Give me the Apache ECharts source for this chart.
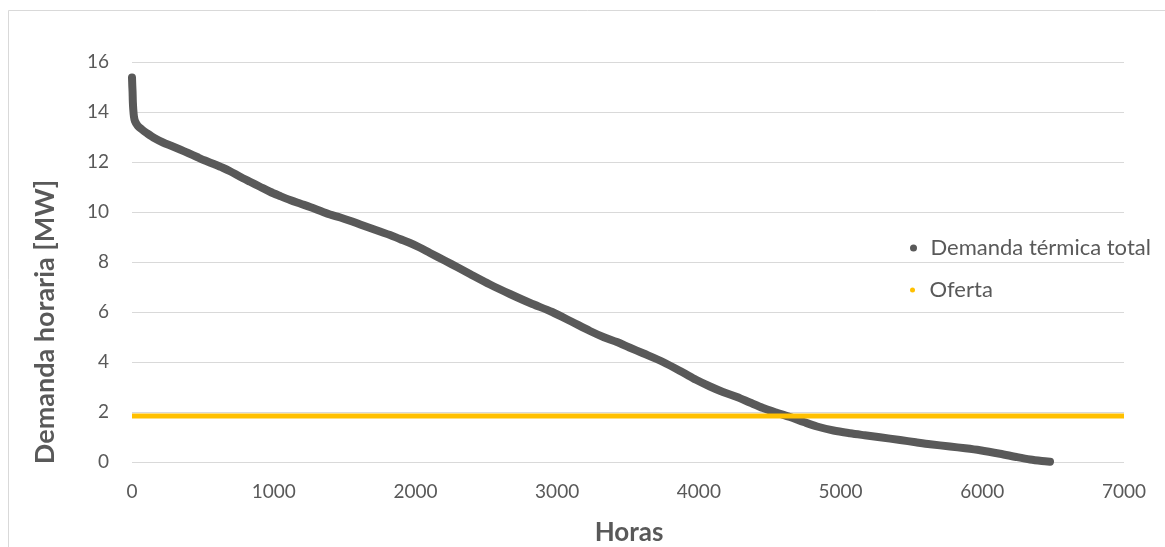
<!DOCTYPE html>
<html>
<head>
<meta charset="utf-8">
<script src="https://cdn.jsdelivr.net/npm/echarts@6/dist/echarts.min.js"></script>
<style>
html,body{margin:0;padding:0;background:#fff;}
#chart{width:1165px;height:547px;}
</style>
</head>
<body>
<div id="chart"></div>
<script>
// Demanda térmica total: [hora, MW] (sorted load duration curve)
const demandaHoras = [0,2,4,6,9,13,20,40,70,106,160,219,280,339,400,459,515,572,640,692,760,833,900,974,1045,1115,1190,1256,1348,1397,1470,1538,1610,1680,1750,1821,1890,1962,2030,2103,2209,2300,2385,2526,2667,2809,2965,3100,3232,3330,3422,3510,3606,3747,3888,3980,4079,4170,4269,4360,4453,4550,4643,4740,4834,4950,5067,5170,5278,5420,5530,5632,5772,5880,5984,6125,6240,6337,6420,6478];
const demandaMW = [15.38,15.05,14.8,14.4,14.1,13.85,13.65,13.45,13.3,13.15,12.95,12.78,12.64,12.5,12.35,12.2,12.06,11.93,11.77,11.63,11.42,11.21,11.02,10.81,10.64,10.48,10.33,10.2,10.0,9.9,9.78,9.65,9.5,9.36,9.22,9.08,8.92,8.76,8.58,8.36,8.05,7.78,7.52,7.1,6.72,6.36,6.0,5.62,5.24,4.99,4.8,4.58,4.35,4.0,3.58,3.29,3.02,2.8,2.6,2.38,2.16,1.97,1.8,1.6,1.42,1.26,1.15,1.07,0.99,0.88,0.79,0.71,0.62,0.55,0.47,0.33,0.2,0.1,0.04,0.01];
// Oferta
const ofertaHoras = [0, 7000];
const ofertaMW = [1.84, 1.84];
// Axis ticks
const xTicks = [0,1000,2000,3000,4000,5000,6000,7000];
const yTicks = [0,2,4,6,8,10,12,14,16];

const FONT = 'Lato';
const GREY = '#595959';

const chart = echarts.init(document.getElementById('chart'));
chart.setOption({
  animation: false,
  backgroundColor: '#ffffff',
  textStyle: { fontFamily: FONT },
  grid: { left: 132, right: 41, top: 62, bottom: 85, containLabel: false },
  xAxis: {
    type: 'value', min: xTicks[0], max: xTicks[xTicks.length-1], interval: 1000,
    axisLine: { show: false }, axisTick: { show: false }, splitLine: { show: false },
    axisLabel: { color: GREY, fontSize: 19, fontFamily: FONT, margin: 20, formatter: v => String(v) }
  },
  yAxis: {
    type: 'value', min: yTicks[0], max: yTicks[yTicks.length-1], interval: 2,
    axisLine: { show: false }, axisTick: { show: false },
    splitLine: { show: true, lineStyle: { color: '#d9d9d9', width: 1 } },
    axisLabel: { color: GREY, fontSize: 19, fontFamily: FONT, margin: 23, formatter: v => String(v) }
  },
  legend: [
    { data: ['Demanda térmica total'], left: 905, top: 232, orient: 'vertical', icon: 'circle',
      itemWidth: 24, itemHeight: 7, textStyle: { color: GREY, fontSize: 22, fontFamily: FONT } },
    { data: ['Oferta'], left: 905, top: 274, orient: 'vertical', icon: 'circle',
      itemWidth: 24, itemHeight: 5, textStyle: { color: GREY, fontSize: 22, fontFamily: FONT } }
  ],
  graphic: [
    { type: 'rect', shape: { x: 8.5, y: 10.5, width: 1300, height: 700 },
      style: { fill: 'none', stroke: '#d9d9d9', lineWidth: 1 }, silent: true, z: -10 },
    { type: 'text', x: 45, y: 322, rotation: Math.PI/2,
      style: { text: 'Demanda horaria [MW]', fill: GREY, font: 'bold 27px ' + FONT, align: 'center', verticalAlign: 'middle' } },
    { type: 'text', x: 629, y: 533,
      style: { text: 'Horas', fill: GREY, font: 'bold 26px ' + FONT, align: 'center', verticalAlign: 'middle' } }
  ],
  series: [
    { name: 'Demanda térmica total', type: 'line', color: GREY, showSymbol: false, symbol: 'circle', smooth: 0.3,
      data: demandaHoras.map((h, i) => [h, demandaMW[i]]),
      lineStyle: { color: GREY, width: 8, cap: 'round', join: 'round' }, z: 2 },
    { name: 'Oferta', type: 'line', color: '#FFC000', showSymbol: false, symbol: 'circle',
      data: ofertaHoras.map((h, i) => [h, ofertaMW[i]]),
      lineStyle: { color: '#FFC000', width: 5 }, z: 3 }
  ]
});
</script>
</body>
</html>
